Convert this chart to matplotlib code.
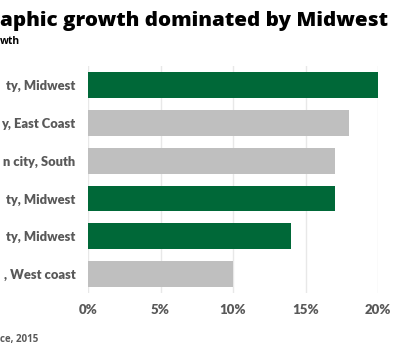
import matplotlib
matplotlib.use("Agg")
import matplotlib.pyplot as plt

# what the (cropped) reference shows, top to bottom
cities = ["ty, Midwest", "y, East Coast", "n city, South",
          "ty, Midwest", "ty, Midwest", ", West coast"]
growth = [20, 18, 17, 17, 14, 10]
midwest = [True, False, False, True, True, False]
ticks = [0, 5, 10, 15, 20]
tick_labels = ["0%", "5%", "10%", "15%", "20%"]
title = "aphic growth dominated by Midwest"
subtitle = "wth"
source = "ce, 2015"

green = "#006838"
grey = "#bfbfbf"
label_grey = "#595959"
colors = [green if m else grey for m in midwest]

plt.rcParams["font.family"] = ["Open Sans", "DejaVu Sans"]
lab_font = ["Lato", "DejaVu Sans"]

fig = plt.figure(figsize=(4, 3.5), dpi=100)
ax = fig.add_axes([0.22, 0.163, 0.725, 0.648])

pos = list(range(len(cities)))
ax.barh(pos, growth, height=0.68, color=colors, zorder=2)
ax.set_ylim(len(cities) - 0.5, -0.5)
ax.set_xlim(0, 20)
ax.set_yticks(pos)
ax.set_yticklabels(cities, fontsize=10, fontweight="heavy", color=label_grey,
                   family=lab_font)
ax.set_xticks(ticks)
ax.set_xticklabels(tick_labels, fontsize=9.5, fontweight="heavy", color=label_grey,
                   family=lab_font)
ax.tick_params(length=0, axis="y", pad=9)
ax.tick_params(length=0, axis="x", pad=8)
ax.grid(axis="x", color="#e8e8e8", linewidth=1, zorder=0)
for s in ax.spines.values():
    s.set_visible(False)

t = fig.text(0.0, 0.925, title, fontsize=15, fontweight="heavy",
             color="black", va="baseline", ha="left")
fig.canvas.draw()
# stretch the title to the width it has in the reference (~386 px)
w = t.get_window_extent().width
t.set_fontsize(15 * 386 / w)
# y labels fit in the ~74 px left of the bars
widest = max(l.get_window_extent().width for l in ax.get_yticklabels())
for l in ax.get_yticklabels():
    l.set_fontsize(10 * min(1, 74 / widest))

fig.text(0.0, 0.875, subtitle, fontsize=7.5, fontweight="bold",
         color="black", va="baseline", ha="left")
fig.text(0.0, 0.022, source, fontsize=7, fontweight="bold",
         color=label_grey, va="baseline", ha="left")

fig.savefig("out.png", dpi=100)
